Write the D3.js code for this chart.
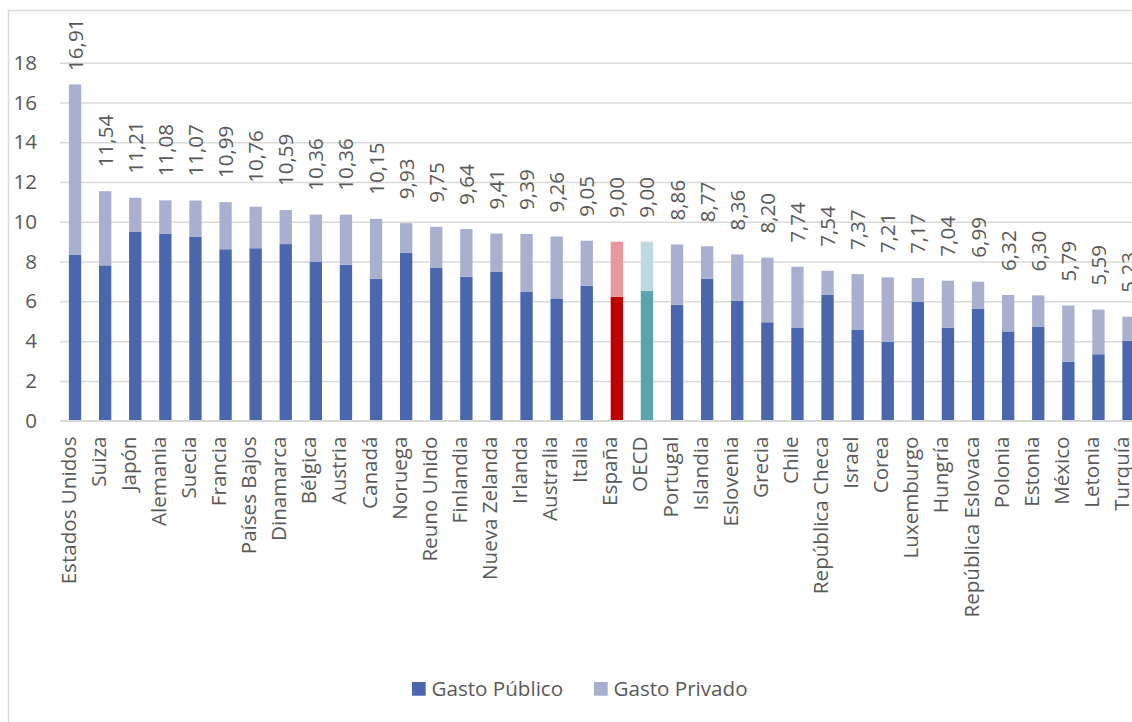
<!DOCTYPE html>
<html lang="es">
<head>
<meta charset="utf-8">
<script src="https://cdn.jsdelivr.net/npm/d3@7"></script>
<style>
  html, body { margin: 0; padding: 0; background: #fff; }
  svg { display: block; font-family: "Open Sans", sans-serif; }
</style>
</head>
<body>
<svg id="chart" width="1132" height="722"></svg>
<script>
// Gasto en salud (% del PIB), público y privado, por país
const categories = ["Estados Unidos","Suiza","Japón","Alemania","Suecia","Francia","Países Bajos","Dinamarca","Bélgica","Austria","Canadá","Noruega","Reuno Unido","Finlandia","Nueva Zelanda","Irlanda","Australia","Italia","España","OECD","Portugal","Islandia","Eslovenia","Grecia","Chile","República Checa","Israel","Corea","Luxemburgo","Hungría","República Eslovaca","Polonia","Estonia","México","Letonia","Turquía"];

const gastoPublico = [8.33,7.81,9.49,9.39,9.24,8.62,8.67,8.88,8.00,7.84,7.14,8.43,7.68,7.24,7.48,6.47,6.15,6.79,6.23,6.52,5.83,7.14,6.02,4.95,4.66,6.34,4.56,3.97,5.98,4.68,5.62,4.49,4.73,2.97,3.34,4.02];

const gastoPrivado = [8.58,3.73,1.72,1.69,1.83,2.37,2.09,1.71,2.36,2.52,3.01,1.50,2.07,2.40,1.93,2.92,3.11,2.26,2.77,2.48,3.03,1.63,2.34,3.25,3.08,1.20,2.81,3.24,1.19,2.36,1.37,1.83,1.57,2.82,2.25,1.21];

const yTicks = [0,2,4,6,8,10,12,14,16,18];

const seriesNames = ["Gasto Público","Gasto Privado"];

// Colour per series, with highlighted categories
const baseColors = { "Gasto Público": "#4A66AC", "Gasto Privado": "#A9B0CF" };
const highlight = {
  "España": { "Gasto Público": "#C00000", "Gasto Privado": "#E8989B" },
  "OECD":   { "Gasto Público": "#5BA3AE", "Gasto Privado": "#BDDADF" }
};

const rows = categories.map((c, i) => ({
  pais: c,
  "Gasto Público": gastoPublico[i],
  "Gasto Privado": gastoPrivado[i]
}));

const svg = d3.select("#chart");
const textColor = "#595959";
const gridColor = "#D9D9D9";
const fontSize = "20.6px";

// Chart area frame
svg.append("rect")
  .attr("x", 8.5).attr("y", 10.5)
  .attr("width", 1200).attr("height", 800)
  .attr("fill", "#fff")
  .attr("stroke", gridColor).attr("stroke-width", 1.5);

const plotLeft = 60, step = 30.1;
const plotRight = plotLeft + step * categories.length;

const x = d3.scaleBand()
  .domain(categories)
  .range([plotLeft, plotRight])
  .paddingInner(0.59)
  .paddingOuter(0.295);

const y = d3.scaleLinear().domain([0, 18]).range([420.7, 62.7]);

// Gridlines
svg.append("g")
  .attr("transform", `translate(${plotLeft},0)`)
  .call(d3.axisLeft(y).tickValues(yTicks).tickSize(-(plotRight - plotLeft)).tickFormat(""))
  .call(g => g.select(".domain").remove())
  .call(g => g.selectAll("line").attr("stroke", gridColor).attr("stroke-width", 1.5));

// Y axis labels
svg.append("g")
  .attr("transform", `translate(${plotLeft},0)`)
  .call(d3.axisLeft(y).tickValues(yTicks).tickSize(0).tickPadding(23).tickFormat(d3.format("d")))
  .call(g => g.select(".domain").remove())
  .call(g => g.selectAll("text")
    .attr("fill", textColor)
    .style("font-size", fontSize)
    .style("font-family", "'Open Sans', sans-serif"));

// Stacked bars
const stacked = d3.stack().keys(seriesNames)(rows);

svg.append("g")
  .selectAll("g")
  .data(stacked)
  .join("g")
  .selectAll("rect")
  .data(s => s.map(d => ({ key: s.key, d })))
  .join("rect")
  .attr("x", o => x(o.d.data.pais))
  .attr("width", x.bandwidth())
  .attr("y", o => y(o.d[1]))
  .attr("height", o => y(o.d[0]) - y(o.d[1]))
  .attr("fill", o => (highlight[o.d.data.pais] || baseColors)[o.key]);

// Baseline axis line
svg.append("line")
  .attr("x1", plotLeft).attr("x2", plotRight)
  .attr("y1", y(0)).attr("y2", y(0))
  .attr("stroke", gridColor).attr("stroke-width", 1.5);

// Total value labels above each bar
const totals = stacked[stacked.length - 1].map(d => d[1]);
svg.append("g")
  .selectAll("text")
  .data(totals)
  .join("text")
  .attr("transform", (t, i) => {
    const cx = x(categories[i]) + x.bandwidth() / 2 + 7.5;
    const yb = Math.max(y(t) - 24, 71);
    return `translate(${cx},${yb}) rotate(-90)`;
  })
  .attr("text-anchor", "start")
  .attr("fill", textColor)
  .style("font-size", fontSize)
  .text(t => t.toFixed(2).replace(".", ","));

// Category labels
svg.append("g")
  .selectAll("text")
  .data(categories)
  .join("text")
  .attr("transform", c => `translate(${x(c) + x.bandwidth() / 2 + 0.5},436.5) rotate(-90)`)
  .attr("text-anchor", "end")
  .attr("fill", textColor)
  .style("font-size", fontSize)
  .text(c => c);

// Legend
const legend = svg.append("g");
const legendX = [412, 594];
seriesNames.forEach((s, i) => {
  legend.append("rect")
    .attr("x", legendX[i]).attr("y", 682)
    .attr("width", 13.7).attr("height", 13.7)
    .attr("fill", baseColors[s]);
  legend.append("text")
    .attr("x", legendX[i] + 19.5).attr("y", 695.7)
    .attr("fill", textColor)
    .style("font-size", fontSize)
    .text(s);
});
</script>
</body>
</html>
